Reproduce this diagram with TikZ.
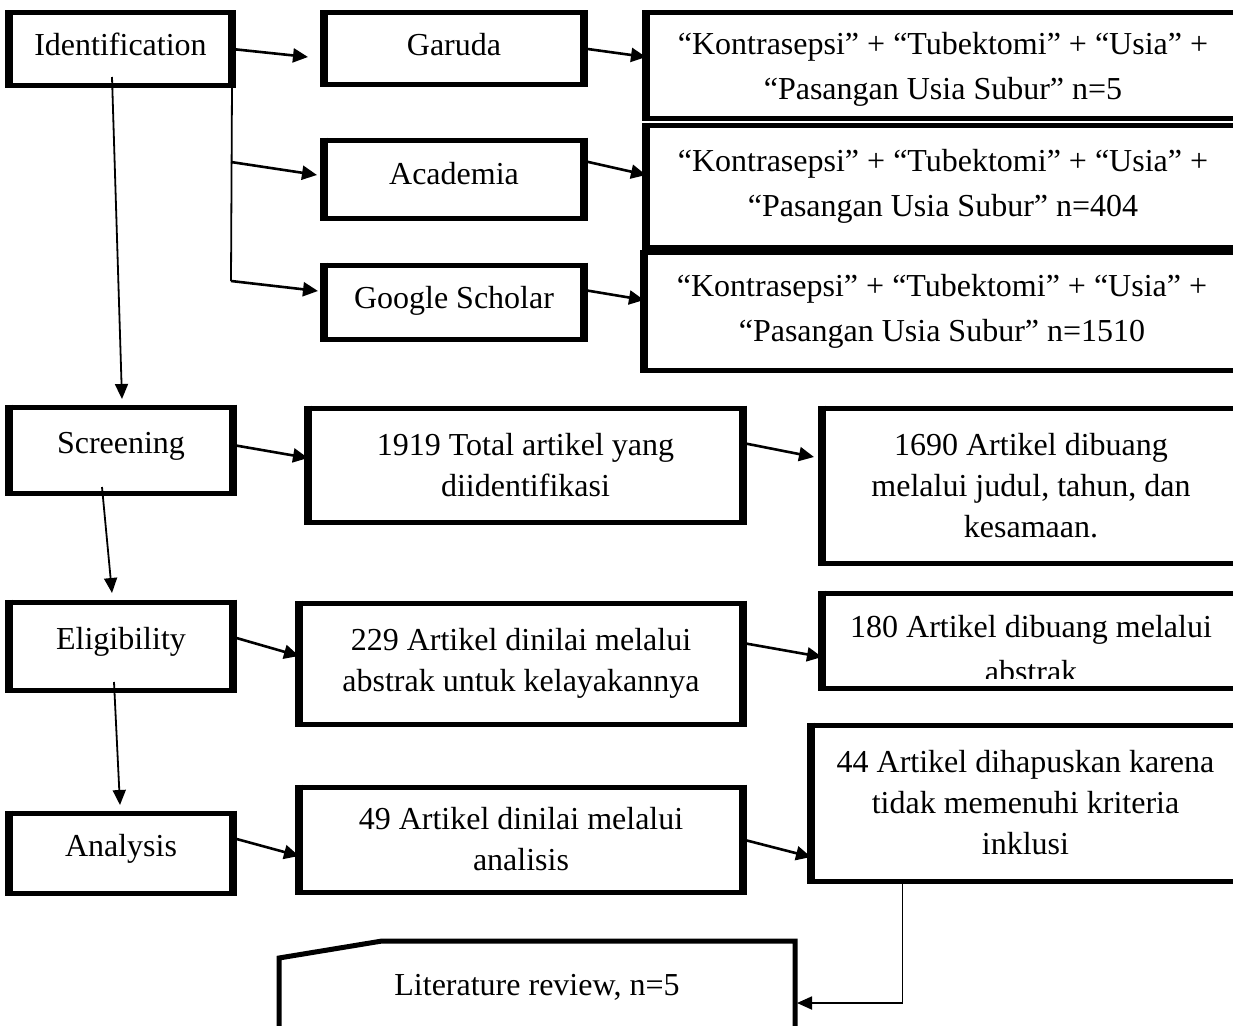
\documentclass[tikz,border=0pt]{standalone}
\usepackage{fontspec}
\setmainfont{Liberation Serif}
\usetikzlibrary{arrows.meta,calc}

\begin{document}
\begin{tikzpicture}
	[x=1pt,y=-1pt,
	txt/.style={inner sep=0pt,outer sep=0pt,align=center,font=\fontsize{32}{41}\selectfont},
	box/.style={txt,draw,line width=5pt,
		append after command={([yshift=2.5pt]\tikzlastnode.north west) edge[line width=8pt] ([yshift=-2.5pt]\tikzlastnode.south west)
			([yshift=2.5pt]\tikzlastnode.north east) edge[line width=8pt] ([yshift=-2.5pt]\tikzlastnode.south east)}},
	one/.style={text height=22pt,text depth=16pt},
	qbox/.style={box,font=\fontsize{32}{45}\selectfont},
	arr/.style={line width=2.6pt,-{Triangle[length=15pt,width=14pt]}},
	varr/.style={line width=1.8pt,-{Triangle[length=15pt,width=13pt]}}]
	\fill[white] (0,0) rectangle (1233,1025);
	\clip (0,0) rectangle (1233,1025);

	% identification
	\node[box,one,text depth=8pt,minimum width=223,minimum height=72] (id) at (120.5,49) {Identification};
	\node[box,one,text depth=8pt,minimum width=260,minimum height=71] (gar) at (454,48.5) {Garuda};
	\node[box,one,text depth=12pt,minimum width=260,minimum height=78] (aca) at (454,179) {Academia};
	\node[box,one,text depth=10pt,minimum width=260,minimum height=74] (gs) at (454,302) {Google Scholar};
	\node[qbox,text depth=0pt,minimum width=594,minimum height=105] (k1) at (943,65.5) {“Kontrasepsi” + “Tubektomi” + “Usia” +\\“Pasangan Usia Subur” n=5};
	\node[qbox,minimum width=594,minimum height=122] (k2) at (943,186) {“Kontrasepsi” + “Tubektomi” + “Usia” +\\“Pasangan Usia Subur” n=404};
	\node[qbox,minimum width=596,minimum height=118] (k3) at (942,311) {“Kontrasepsi” + “Tubektomi” + “Usia” +\\“Pasangan Usia Subur” n=1510};

	% screening
	\node[box,one,minimum width=224,minimum height=86] (scr) at (121,450) {Screening};
	\node[box,minimum width=435,minimum height=114] (tot) at (525.5,465) {1919 Total artikel yang\\diidentifikasi};
	\node[box,minimum width=418,minimum height=155] (buang) at (1031,485.5) {1690 Artikel dibuang\\melalui judul, tahun, dan\\kesamaan.};

	% eligibility
	\node[box,one,minimum width=224,minimum height=88] (elig) at (121,646) {Eligibility};
	\node[box,minimum width=444,minimum height=121] (nilai) at (521,663.5) {229 Artikel dinilai melalui\\abstrak untuk kelayakannya};
	\begin{scope}
		\clip (822,600) rectangle (1240,678);
		\node[txt,font=\fontsize{32}{45}\selectfont] (buang2txt) at (1031,649.5) {180 Artikel dibuang melalui\\abstrak};
	\end{scope}
	\node[box,minimum width=418,minimum height=95] (buang2) at (1031,640.5) {};

	% analysis
	\node[box,one,minimum width=224,minimum height=80] (ana) at (121,853) {Analysis};
	\node[box,minimum width=444,minimum height=105] (nilai2) at (521,839.5) {49 Artikel dinilai melalui\\analisis};
	\node[box,minimum width=429,minimum height=156] (hapus) at (1025.5,803) {44 Artikel dihapuskan karena\\tidak memenuhi kriteria\\inklusi};

	% literature review
	\node[txt] (lit) at (537,987) {Literature review, n=5};
	\draw[line width=5pt] (279,1040) -- (279,958) -- (382,941) -- (795,941) -- (795,1040);
	\coordinate (litin) at (797,1003);

	\coordinate (br1) at (231,162);
	\coordinate (br2) at (231,281);
	\draw[line width=1.8pt] (id.south east) -- (br2);
	\path[arr] (br1) edge ([xshift=-7,yshift=4]aca.west)
		(br2) edge ([xshift=-6,yshift=11]gs.west);

	\path[arr]
	\foreach \startNode/\sy/\endNode/\ex/\ey in {id/0/gar/-16/-8.5,gar/0/k1/0/8.5,aca/18/k2/0/11,gs/12/k3/0/11,
		scr/5/tot/0/7,tot/22/buang/-8/28.5,elig/9/nilai/0/7.5,nilai/20.5/buang2/0/-16.5,
		ana/15/nilai2/0/-16.5,nilai2/0/hapus/0/-54}
	{
		([yshift=\sy]\startNode.east) edge ([xshift=\ex,yshift=\ey]\endNode.west)
	};

	\draw[varr] ([xshift=-8.5,yshift=8]id.south) -- ([xshift=1,yshift=8]scr.north);
	\draw[varr] ([xshift=-19,yshift=6]scr.south) -- ([xshift=-9,yshift=9]elig.north);
	\draw[varr] ([xshift=-7,yshift=8]elig.south) -- ([xshift=-1,yshift=8]ana.north);
	\draw[varr] ([xshift=-123]hapus.south) |- (litin);
\end{tikzpicture}
\end{document}
